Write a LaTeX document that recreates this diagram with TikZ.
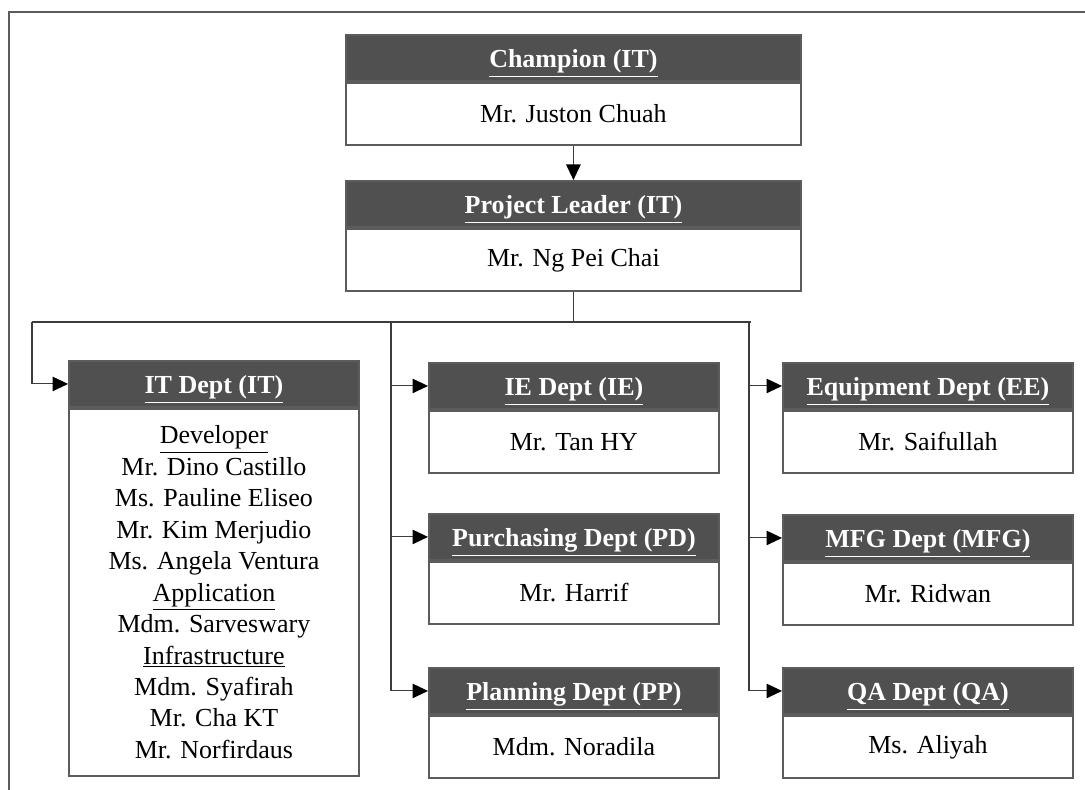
\documentclass[tikz,border=0pt]{standalone}
\usepackage{fontspec}
\setmainfont{Liberation Serif}
\usepackage{tikz}
\usetikzlibrary{arrows.meta,positioning}
\definecolor{hdgray}{HTML}{505050}
\definecolor{edgegray}{HTML}{5C5C5C}
\definecolor{lngray}{HTML}{3C3C3C}
\newcommand{\ul}[1]{\underline{#1}}

\begin{document}
\begin{tikzpicture}[x=0.02cm,y=-0.02cm,
      ar/.style={lngray,line width=0.6pt,-{Triangle[length=3.1mm,width=2.9mm,black]}},
      ln/.style={lngray,line width=0.6pt},
      hd/.style={rectangle,anchor=north west,fill=hdgray,draw=edgegray,line width=1.1pt,
                 text=white,inner sep=0pt,minimum height=0.92cm,
                 text height=0.45cm,text depth=0.05cm,
                 font=\fontsize{14.8}{17.9}\selectfont\bfseries},
      bd/.style={rectangle,below=0pt of #1,draw=edgegray,fill=white,line width=1.1pt,
                 inner sep=0pt,minimum height=1.24cm,align=center,
                 font=\fontsize{14.8}{17.9}\selectfont},
      frame/.style={edgegray,line width=1.1pt}]
    \useasboundingbox (0,0) rectangle (1085,790);

    % ================= outer frame =================
    \draw[frame] (9,790) -- (9,12) -- (1085,12);

    % ================= top of the chart =================
    \node[hd,minimum width=9.1cm] (champh) at (345,34) {\ul{Champion (IT)}};
    \node[bd=champh,minimum width=9.1cm] (champb) {Mr. Juston Chuah};

    \node[hd,minimum width=9.1cm] (plh) at (345,180) {\ul{Project Leader (IT)}};
    \node[bd=plh,minimum width=9.1cm] (plb) {Mr. Ng Pei Chai};

    \draw[ar] (champb) -- (plh);

    % ================= departments =================
    \node[hd,minimum width=5.8cm] (ith) at (68,360) {\ul{IT Dept (IT)}};
    \node[bd=ith,minimum width=5.8cm,minimum height=7.34cm] (itb)
      {\ul{Developer}\\
       Mr. Dino Castillo\\
       Ms. Pauline Eliseo\\
       Mr. Kim Merjudio\\
       Ms. Angela Ventura\\
       \ul{Application}\\
       Mdm. Sarveswary\\
       \ul{Infrastructure}\\
       Mdm. Syafirah\\
       Mr. Cha KT\\
       Mr. Norfirdaus};

    \node[hd,minimum width=5.8cm] (ieh) at (428,362) {\ul{IE Dept (IE)}};
    \node[bd=ieh,minimum width=5.8cm] (ieb) {Mr. Tan HY};

    \node[hd,minimum width=5.8cm] (pdh) at (428,513) {\ul{Purchasing Dept (PD)}};
    \node[bd=pdh,minimum width=5.8cm] (pdb) {Mr. Harrif};

    \node[hd,minimum width=5.8cm] (pph) at (428,667) {\ul{Planning Dept (PP)}};
    \node[bd=pph,minimum width=5.8cm] (ppb) {Mdm. Noradila};

    \node[hd,minimum width=5.8cm] (eeh) at (782,362) {\ul{Equipment Dept (EE)}};
    \node[bd=eeh,minimum width=5.8cm] (eeb) {Mr. Saifullah};

    \node[hd,minimum width=5.8cm] (mfgh) at (782,514) {\ul{MFG Dept (MFG)}};
    \node[bd=mfgh,minimum width=5.8cm] (mfgb) {Mr. Ridwan};

    \node[hd,minimum width=5.8cm] (qah) at (782,667) {\ul{QA Dept (QA)}};
    \node[bd=qah,minimum width=5.8cm] (qab) {Ms. Aliyah};

    % ================= connectors =================
    \coordinate (busl) at (32,322);
    \coordinate (busr) at (751,322);
    \coordinate (midtop) at (391,322);
    \coordinate (rgttop) at (749,322);

    \draw[ln] (plb.south) -- (plb.south |- busl);
    \draw[ln] (busl) -- (busr);
    \draw[ar] (busl) |- (ith.west);

    \draw[ln] (midtop) -- (midtop |- pph.west);
    \foreach \n in {ieh,pdh,pph}
      \draw[ar] (midtop |- \n.west) -- (\n.west);

    \draw[ln] (rgttop) -- (rgttop |- qah.west);
    \foreach \n in {eeh,mfgh,qah}
      \draw[ar] (rgttop |- \n.west) -- (\n.west);
  \end{tikzpicture}
\end{document}
